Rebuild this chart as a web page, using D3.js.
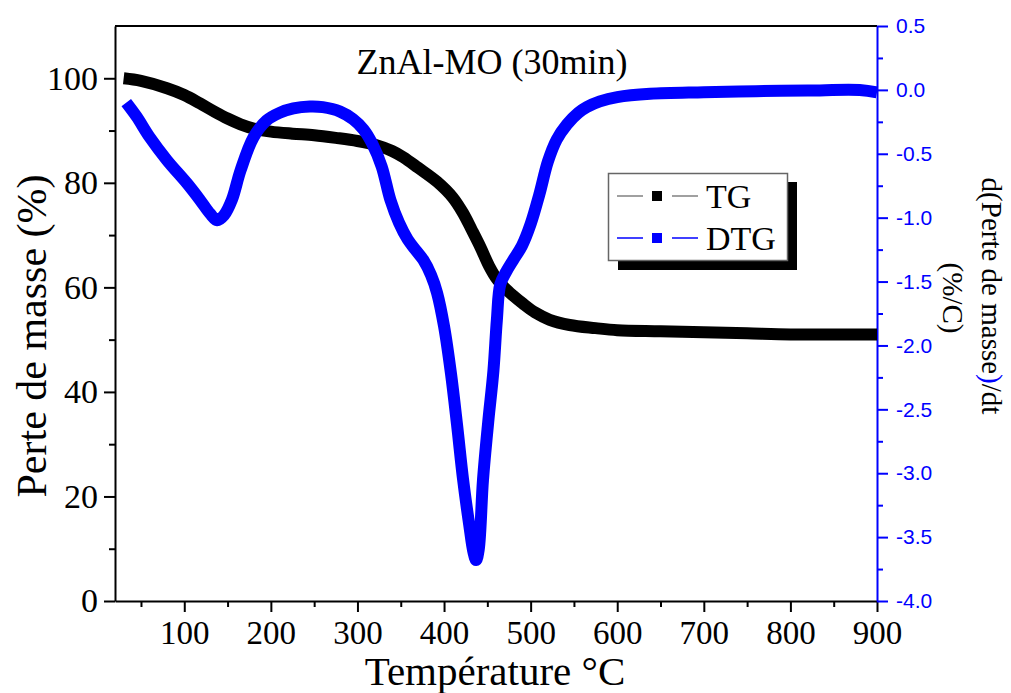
<!DOCTYPE html>
<html>
<head>
<meta charset="utf-8">
<script src="https://cdn.jsdelivr.net/npm/d3@7"></script>
<style>
  body { margin: 0; background: #fff; }
  svg { display: block; }
</style>
</head>
<body>
<div class="chart"></div>
<script>
// TG : perte de masse (%) vs température
var tgTemp = [30, 50, 80, 100, 118, 135, 150, 165, 180, 200, 225, 250, 275, 300, 322, 340, 353, 370, 392, 410, 422, 432, 442, 452, 461, 470, 480, 491, 505, 522, 545, 575, 600, 650, 700, 750, 800, 850, 900];
var tgMass = [100, 99.5, 98.1, 96.8, 95.2, 93.6, 92.3, 91.2, 90.4, 89.8, 89.4, 89.1, 88.6, 88.0, 87.2, 86.1, 84.9, 82.9, 80.2, 77.2, 74.2, 71.0, 67.7, 64.1, 61.6, 59.9, 58.4, 56.9, 55.2, 53.8, 52.8, 52.2, 51.8, 51.6, 51.4, 51.2, 51.0, 51.0, 51.0];

// DTG : d(perte de masse)/dt (%/C)
var dtgTemp = [33, 45, 60, 80, 103, 118, 130, 138, 146, 155, 165, 180, 195, 210, 226, 245, 260, 280, 295, 307, 317, 328, 338, 348, 358, 368, 376, 385, 392, 400, 408, 415, 422, 429, 434, 437, 440, 445, 451, 457, 461, 465, 472, 480, 490, 500, 510, 520, 530, 542, 555, 565, 580, 600, 638, 700, 760, 820, 880, 900];
var dtgVal = [-0.10, -0.21, -0.37, -0.55, -0.73, -0.86, -0.97, -1.02, -0.98, -0.86, -0.63, -0.37, -0.24, -0.18, -0.145, -0.13, -0.135, -0.17, -0.23, -0.31, -0.42, -0.60, -0.86, -1.04, -1.17, -1.26, -1.33, -1.45, -1.59, -1.85, -2.22, -2.62, -3.05, -3.40, -3.62, -3.68, -3.60, -3.05, -2.60, -2.20, -1.80, -1.52, -1.42, -1.33, -1.22, -1.05, -0.82, -0.56, -0.39, -0.27, -0.18, -0.134, -0.09, -0.056, -0.03, -0.018, -0.01, -0.005, -0.001, -0.02];

var xTicks = [100, 200, 300, 400, 500, 600, 700, 800, 900];
var yLeftTicks = [0, 20, 40, 60, 80, 100];
var yRightTicks = [0.5, 0.0, -0.5, -1.0, -1.5, -2.0, -2.5, -3.0, -3.5, -4.0];

var serif = "'Liberation Serif', 'Times New Roman', serif";
var sans = "'Liberation Sans', Arial, sans-serif";
var blue = "#0000ff";

var width = 1011, height = 693;
var plotLeft = 115, plotRight = 877, plotTop = 26, plotBottom = 601;

var svg = d3
    .select(".chart")
    .append("svg")
    .attr("width", width)
    .attr("height", height);

var x = d3.scaleLinear().domain([20, 900]).range([plotLeft, plotRight]);
var yL = d3.scaleLinear().domain([0, 110]).range([plotBottom, plotTop]);
var yR = d3.scaleLinear().domain([-4, 0.5]).range([plotBottom, plotTop]);

// minor ticks
var xMinor = d3.range(50, 901, 50).filter((d) => d % 100 !== 0);
var yLMinor = d3.range(10, 110, 20);
var yRMinor = d3.range(-3.75, 0.5, 0.5);

function styleAxis(g, color, font, size) {
    g.select(".domain").attr("stroke", color).attr("stroke-width", 2);
    g.selectAll(".tick line").attr("stroke", color).attr("stroke-width", 2);
    g.selectAll(".tick text")
        .attr("fill", color)
        .style("font-family", font)
        .style("font-size", size + "px");
}

// bottom axis
var gx = svg.append("g")
    .attr("transform", `translate(0,${plotBottom})`)
    .call(d3.axisBottom(x).tickValues(xTicks).tickSize(11).tickPadding(9).tickSizeOuter(0));
styleAxis(gx, "#000", serif, 33);
svg.append("g")
    .attr("transform", `translate(0,${plotBottom})`)
    .call(d3.axisBottom(x).tickValues(xMinor).tickSize(6).tickFormat("").tickSizeOuter(0))
    .call((g) => g.select(".domain").remove())
    .selectAll("line").attr("stroke", "#000").attr("stroke-width", 2);

// left axis
var gyl = svg.append("g")
    .attr("transform", `translate(${plotLeft},0)`)
    .call(d3.axisLeft(yL).tickValues(yLeftTicks).tickSize(11).tickPadding(6).tickSizeOuter(0));
styleAxis(gyl, "#000", serif, 34);
svg.append("g")
    .attr("transform", `translate(${plotLeft},0)`)
    .call(d3.axisLeft(yL).tickValues(yLMinor).tickSize(6).tickFormat("").tickSizeOuter(0))
    .call((g) => g.select(".domain").remove())
    .selectAll("line").attr("stroke", "#000").attr("stroke-width", 2);

// top frame
svg.append("line")
    .attr("x1", plotLeft).attr("x2", plotRight)
    .attr("y1", plotTop).attr("y2", plotTop)
    .attr("stroke", "#000").attr("stroke-width", 2);

// right axis (blue), plain hyphen for minus
var fmt = d3.format(".1f");
var gyr = svg.append("g")
    .attr("transform", `translate(${plotRight},0)`)
    .call(d3.axisRight(yR).tickValues(yRightTicks).tickSize(11).tickPadding(8).tickSizeOuter(0)
        .tickFormat((d) => fmt(d).replace("\u2212", "-")));
styleAxis(gyr, blue, sans, 21);
svg.append("g")
    .attr("transform", `translate(${plotRight},0)`)
    .call(d3.axisRight(yR).tickValues(yRMinor).tickSize(6).tickFormat("").tickSizeOuter(0))
    .call((g) => g.select(".domain").remove())
    .selectAll("line").attr("stroke", blue).attr("stroke-width", 2);

// curves
var tgData = tgTemp.map((t, i) => [t, tgMass[i]]);
var dtgData = dtgTemp.map((t, i) => [t, dtgVal[i]]);

var tgLine = d3.line()
    .x((d) => x(d[0]))
    .y((d) => yL(d[1]))
    .curve(d3.curveCatmullRom.alpha(0.5));
var dtgLine = d3.line()
    .x((d) => x(d[0]))
    .y((d) => yR(d[1]))
    .curve(d3.curveCatmullRom.alpha(0.5));

svg.append("path")
    .datum(tgData)
    .attr("d", tgLine)
    .attr("fill", "none")
    .attr("stroke", "#000")
    .attr("stroke-width", 12);

svg.append("path")
    .datum(dtgData)
    .attr("d", dtgLine)
    .attr("fill", "none")
    .attr("stroke", blue)
    .attr("stroke-width", 12);

// title
svg.append("text")
    .attr("x", 492).attr("y", 74)
    .attr("text-anchor", "middle")
    .style("font-family", serif)
    .style("font-size", "36px")
    .text("ZnAl-MO (30min)");

// axis titles
svg.append("text")
    .attr("x", 495).attr("y", 685)
    .attr("text-anchor", "middle")
    .style("font-family", serif)
    .style("font-size", "41px")
    .text("Température °C");

svg.append("text")
    .attr("transform", "translate(46,336) rotate(-90)")
    .attr("text-anchor", "middle")
    .style("font-family", serif)
    .style("font-size", "42px")
    .text("Perte de masse (%)");

var rl = svg.append("text")
    .attr("transform", "translate(982,296) rotate(90)")
    .attr("text-anchor", "middle")
    .style("font-family", serif)
    .style("font-size", "29px");
rl.append("tspan").text("d(Perte de masse");
rl.append("tspan").attr("fill", blue).text(")");
rl.append("tspan").text("/dt");

svg.append("text")
    .attr("transform", "translate(943,298) rotate(90)")
    .attr("text-anchor", "middle")
    .style("font-family", serif)
    .style("font-size", "29px")
    .text("(%/C)");

// legend
var legend = svg.append("g");
legend.append("rect")
    .attr("x", 618).attr("y", 182)
    .attr("width", 179).attr("height", 88)
    .attr("fill", "#000");
legend.append("rect")
    .attr("x", 608.5).attr("y", 173.5)
    .attr("width", 179).attr("height", 87)
    .attr("fill", "#fff")
    .attr("stroke", "#666")
    .attr("stroke-width", 1.5);

var legendItems = [
    { name: "TG", line: "#808080", mark: "#000", y: 196 },
    { name: "DTG", line: blue, mark: blue, y: 238 }
];
legendItems.forEach((it) => {
    legend.append("line")
        .attr("x1", 617).attr("x2", 643)
        .attr("y1", it.y).attr("y2", it.y)
        .attr("stroke", it.line).attr("stroke-width", 1.5);
    legend.append("line")
        .attr("x1", 672).attr("x2", 698)
        .attr("y1", it.y).attr("y2", it.y)
        .attr("stroke", it.line).attr("stroke-width", 1.5);
    legend.append("rect")
        .attr("x", 652).attr("y", it.y - 5)
        .attr("width", 10).attr("height", 10)
        .attr("fill", it.mark);
    legend.append("text")
        .attr("x", 706).attr("y", it.y + 12)
        .style("font-family", serif)
        .style("font-size", "34px")
        .text(it.name);
});
</script>
</body>
</html>
